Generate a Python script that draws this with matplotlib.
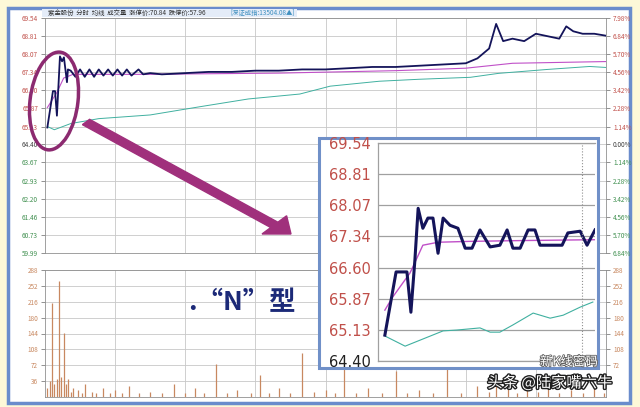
import matplotlib.pyplot as plt
from matplotlib.patches import Rectangle, Ellipse, FancyArrow
import matplotlib.patheffects as pe

plt.rcParams['font.family'] = ['Noto Sans CJK SC', 'DejaVu Sans']

W, H = 640, 407

# price scale (left) and percent scale (right)
price_lv = [69.54, 68.81, 68.07, 67.34, 66.60, 65.87, 65.13, 64.40,
            63.67, 62.93, 62.20, 61.46, 60.73, 59.99]
pct_lv = ['7.98%', '6.84%', '5.70%', '4.56%', '3.42%', '2.28%', '1.14%', '0.00%',
          '1.14%', '2.28%', '3.42%', '4.56%', '5.70%', '6.84%']
vol_lv = [288, 252, 216, 180, 144, 108, 72, 36]

# main chart, minutes 0..240
t_price = [1, 3.4, 4.3, 5.1, 6.4, 7.3, 8.1, 9.4, 9.8, 11, 13, 15, 17, 19, 21, 23, 25, 27, 29,
           31, 33, 35, 37, 40, 42, 45, 50, 60, 70, 80, 90, 100, 110, 120, 130, 140, 150,
           160, 170, 180, 185, 190, 193, 196, 200, 205, 210, 215, 220, 223, 226, 230, 235, 240]
price = [65.09, 66.57, 66.57, 65.57, 67.98, 67.78, 67.94, 66.93, 67.45, 67.40, 67.15, 67.45,
         67.15, 67.45, 67.15, 67.45, 67.20, 67.45, 67.20, 67.45, 67.20, 67.45, 67.20, 67.45,
         67.25, 67.30, 67.25, 67.30, 67.35, 67.35, 67.40, 67.40, 67.45, 67.45, 67.50, 67.55,
         67.55, 67.60, 67.65, 67.70, 67.90, 68.30, 69.30, 68.60, 68.70, 68.60, 68.90, 68.80,
         68.70, 69.20, 69.00, 68.90, 68.90, 68.82]
t_avg = [1, 5, 8, 12, 40, 100, 150, 180, 200, 240]
avg = [65.90, 66.50, 67.10, 67.25, 67.25, 67.30, 67.40, 67.50, 67.70, 67.77]
t_idx = [1, 4, 11, 23, 45, 66, 87, 109, 122, 143, 160, 182, 194, 215, 233, 240]
idx = [65.13, 65.00, 65.25, 65.45, 65.60, 65.93, 66.25, 66.45, 66.77, 66.97, 67.05, 67.13,
       67.29, 67.45, 67.57, 67.53]
t_vol = [1, 2, 3, 4, 5, 6, 7, 8, 9, 10, 11, 12, 14, 16, 17, 20, 22, 25, 28, 30, 33, 36,
         40, 45, 50, 55, 60, 64, 68, 73, 78, 82, 88, 92, 96, 100, 105, 110, 115, 120, 124,
         128, 133, 138, 144, 150, 155, 160, 166, 172, 178, 185, 190, 193, 198, 202, 206,
         211, 215, 220, 225, 230, 235, 239]
vol = [20, 36, 213, 30, 40, 263, 45, 145, 30, 40, 12, 20, 15, 10, 30, 12, 8, 20, 10, 15,
       8, 25, 10, 12, 8, 30, 10, 20, 8, 75, 10, 15, 8, 50, 10, 20, 8, 100, 12, 15, 10,
       130, 8, 20, 10, 60, 8, 15, 10, 70, 8, 25, 12, 50, 30, 10, 20, 12, 35, 10, 15, 8,
       20, 10]

# zoomed inset
t_in = [1.9, 5.0, 8.0, 9.1, 10.2, 11.1, 12.4, 13.8, 15.2, 16.6, 18.0, 19.9, 22.1, 24.1,
        26.0, 28.2, 31.0, 33.7, 35.7, 37.3, 39.3, 41.5, 43.4, 44.8, 50.9, 52.5, 55.9, 57.8, 60]
price_in = [65.01, 66.50, 66.50, 65.55, 66.78, 68.00, 67.53, 67.77, 67.77, 66.94, 67.77,
            67.60, 67.53, 67.06, 67.06, 67.49, 67.09, 67.13, 67.49, 67.06, 67.06, 67.49,
            67.49, 67.13, 67.13, 67.42, 67.46, 67.13, 67.49]
t_avg_in = [1.9, 4.0, 8.8, 9.6, 12.4, 16.6, 25, 40, 60]
avg_in = [65.60, 65.90, 66.47, 66.61, 67.13, 67.20, 67.22, 67.24, 67.26]
t_idx_in = [1.9, 7.5, 18.0, 21.8, 28.2, 31.0, 33.7, 37.3, 42.9, 47.6, 51.2, 55.9, 59.4]
idx_in = [64.99, 64.75, 65.11, 65.13, 65.18, 65.08, 65.08, 65.25, 65.53, 65.41, 65.48,
          65.67, 65.79]

RED = '#c0504a'
GRN = '#3f8f4f'
VOLC = '#c88860'
NAVY = '#14145a'
PINK = '#c050c8'
TEAL = '#40b0a0'
GRID = '#c8c8c8'


def ax_px(x0, y0, x1, y1, **kw):
    return fig.add_axes([x0 / W, 1 - y1 / H, (x1 - x0) / W, (y1 - y0) / H], **kw)


fig = plt.figure(figsize=(W / 100, H / 100), dpi=100, facecolor='#fdf8d8')

# frame
fig.patches.append(Rectangle((8 / W, 1 - 403 / H), 622 / W, 395 / H, transform=fig.transFigure,
                             facecolor='white', edgecolor='#6a8ccc', lw=2.5, zorder=-5))
fig.patches.append(Rectangle((42 / W, 1 - 17 / H), 255 / W, 8 / H, transform=fig.transFigure,
                             facecolor='#e4ecf8', edgecolor='none', zorder=-4))
fig.text(48 / W, 1 - 13 / H, '紫金股份  分时  均线  成交量  涨停价:70.84  跌停价:57.96',
         fontsize=4.6, color='#303030', va='center')
fig.text(230 / W, 1 - 13 / H, '[深证成指:13504.08▲]', fontsize=4.6, color='#4090c0', va='center')

# price panel
ax = ax_px(45, 18, 606, 253)
ax.patch.set_alpha(0)
ax.plot(t_idx, idx, color=TEAL, lw=0.7)
ax.plot(t_avg, avg, color=PINK, lw=0.8)
ax.plot(t_price, price, color=NAVY, lw=1.3)
ax.set_xlim(0, 240)
ax.set_ylim(59.99, 69.54)
ax.set_xticks(range(30, 240, 30))
ax.set_yticks(price_lv)
ax.set_yticklabels(['%.2f' % v for v in price_lv], fontsize=4.6)
for lab, v in zip(ax.get_yticklabels(), price_lv):
    lab.set_color(RED if v > 64.41 else (GRN if v < 64.39 else '#404040'))
ax.tick_params(axis='x', length=0, labelbottom=False)
ax.tick_params(axis='y', length=3, width=0.6, color='#808080', pad=2)
ax.grid(True, color=GRID, lw=0.6)
for s in ax.spines.values():
    s.set_color('#909090')
    s.set_linewidth(0.6)
ax2 = ax.twinx()
ax2.set_ylim(59.99, 69.54)
ax2.set_yticks(price_lv)
ax2.set_yticklabels(pct_lv, fontsize=4.6)
for lab, v in zip(ax2.get_yticklabels(), price_lv):
    lab.set_color(RED if v > 64.41 else (GRN if v < 64.39 else '#404040'))
ax2.tick_params(axis='y', length=3, width=0.6, color='#808080', pad=2)
for s in ax2.spines.values():
    s.set_visible(False)

# volume panel
axv = ax_px(45, 270, 606, 397)
axv.patch.set_alpha(0)
axv.vlines(t_vol, 0, vol, color=VOLC, lw=0.9)
axv.set_xlim(0, 240)
axv.set_ylim(0, 288)
axv.set_xticks(range(30, 240, 30))
axv.set_yticks(vol_lv)
axv.set_yticklabels([str(v) for v in vol_lv], fontsize=4.6, color=VOLC)
axv.tick_params(axis='x', length=0, labelbottom=False)
axv.tick_params(axis='y', length=3, width=0.6, color='#808080', pad=2)
axv.grid(True, color=GRID, lw=0.6)
for s in axv.spines.values():
    s.set_color('#909090')
    s.set_linewidth(0.6)
axv2 = axv.twinx()
axv2.set_ylim(0, 288)
axv2.set_yticks(vol_lv[:-1])
axv2.set_yticklabels([str(v) for v in vol_lv[:-1]], fontsize=4.6, color=VOLC)
axv2.tick_params(axis='y', length=3, width=0.6, color='#808080', pad=2)
for s in axv2.spines.values():
    s.set_visible(False)

# ellipse and arrow
fig.patches.append(Ellipse((54 / W, 1 - 101 / H), 48 / W, 98 / H, angle=-4, transform=fig.transFigure,
                           fill=False, edgecolor='#8c2a70', lw=2.5, zorder=2))
fig.patches.append(FancyArrow(86 / W, 1 - 122 / H, 205 / W, -112 / H, width=7 / H,
                              head_width=24 / H, head_length=22 / W, length_includes_head=True,
                              transform=fig.transFigure, color='#a0307c', zorder=2))

# inset box
fig.patches.append(Rectangle((319 / W, 1 - 368 / H), 279 / W, 230 / H, transform=fig.transFigure,
                             facecolor='white', edgecolor='#7090c8', lw=2.2, zorder=3))
axi = ax_px(378, 143, 595, 361)
axi.set_zorder(4)
axi.plot(t_idx_in, idx_in, color=TEAL, lw=0.8)
axi.plot(t_avg_in, avg_in, color=PINK, lw=1.0)
axi.plot(t_in, price_in, color=NAVY, lw=2.2)
axi.axvline(56.4, color='#909090', lw=0.8, ls=':')
axi.set_xlim(0, 60)
axi.set_ylim(64.40, 69.54)
axi.set_yticks(price_lv[:8])
axi.set_yticklabels(['%.2f' % v for v in price_lv[:8]], fontsize=10.5, family='DejaVu Sans')
for lab, v in zip(axi.get_yticklabels(), price_lv[:8]):
    lab.set_color(RED if v > 64.41 else '#202020')
axi.set_xticks([])
axi.tick_params(axis='y', length=0, pad=5)
axi.grid(True, axis='y', color='#a0a0a0', lw=0.9)
for k, s in axi.spines.items():
    s.set_color('#a0a0a0')
    s.set_linewidth(0.9)
    if k == 'right':
        s.set_visible(False)

fig.text(188 / W, 1 - 303 / H, '.“N”型', fontsize=19, fontweight='bold', color='#1c2a78',
         va='center', zorder=5)

# watermark
fig.text(598 / W, 1 - 362 / H, '新K线密码', fontsize=9, color='white', ha='right', va='center',
         path_effects=[pe.withStroke(linewidth=1.2, foreground='#606060')], zorder=10)
fig.text(612 / W, 1 - 383 / H, '头条 @陆家嘴六牛', fontsize=11, color='white', ha='right',
         va='center', path_effects=[pe.withStroke(linewidth=2, foreground='#202020')], zorder=10)

fig.savefig('out.png', dpi=100, facecolor=fig.get_facecolor())
